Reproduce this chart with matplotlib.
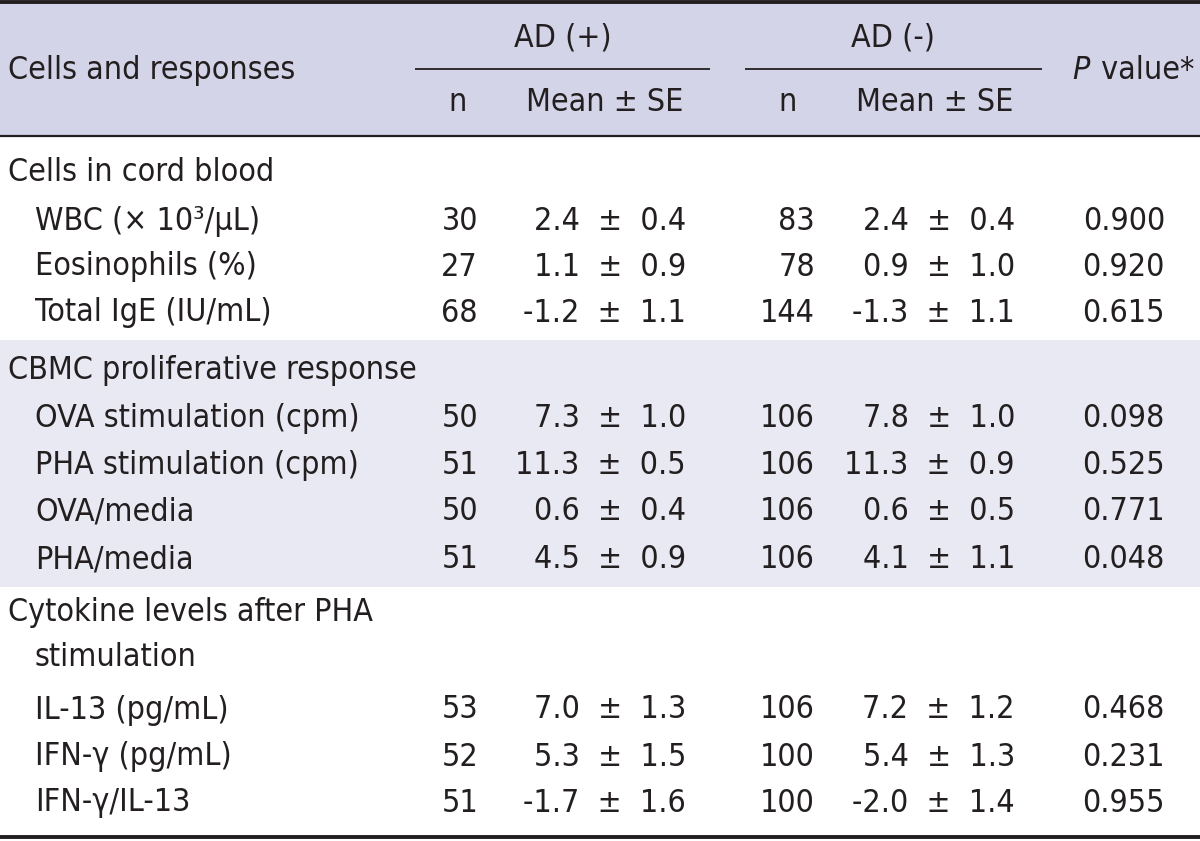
import matplotlib
matplotlib.use("Agg")
import matplotlib.pyplot as plt
from matplotlib import font_manager

# pick a narrow sans font if one is installed
names = {f.name for f in font_manager.fontManager.ttflist}
if "Liberation Sans Narrow" in names:
    FONT = dict(family="Liberation Sans Narrow")
else:
    FONT = dict(family="DejaVu Sans", stretch="condensed")

# table content
row_labels = [
    "Cells in cord blood", "WBC (× 10³/μL)", "Eosinophils (%)", "Total IgE (IU/mL)",
    "CBMC proliferative response", "OVA stimulation (cpm)", "PHA stimulation (cpm)",
    "OVA/media", "PHA/media",
    "Cytokine levels after PHA", "stimulation", "IL-13 (pg/mL)", "IFN-γ (pg/mL)", "IFN-γ/IL-13",
]
is_heading = [True, False, False, False, True, False, False, False, False,
              True, False, False, False, False]
n_pos = [None, 30, 27, 68, None, 50, 51, 50, 51, None, None, 53, 52, 51]
mean_pos = [None, 2.4, 1.1, -1.2, None, 7.3, 11.3, 0.6, 4.5, None, None, 7.0, 5.3, -1.7]
se_pos = [None, 0.4, 0.9, 1.1, None, 1.0, 0.5, 0.4, 0.9, None, None, 1.3, 1.5, 1.6]
n_neg = [None, 83, 78, 144, None, 106, 106, 106, 106, None, None, 106, 100, 100]
mean_neg = [None, 2.4, 0.9, -1.3, None, 7.8, 11.3, 0.6, 4.1, None, None, 7.2, 5.4, -2.0]
se_neg = [None, 0.4, 1.0, 1.1, None, 1.0, 0.9, 0.5, 1.1, None, None, 1.2, 1.3, 1.4]
p_values = [None, "0.900", "0.920", "0.615", None, "0.098", "0.525", "0.771", "0.048",
            None, None, "0.468", "0.231", "0.955"]

row_y = [172, 221, 267, 313, 370, 418, 465, 512, 560, 613, 658, 710, 757, 803]

HEADER_BG = "#D4D4E8"
SHADE_BG = "#E9E9F3"
INK = "#231F20"
FS = 23

fig = plt.figure(figsize=(12, 8.41), dpi=100)
ax = fig.add_axes([0, 0, 1, 1])
ax.set_xlim(0, 1200)
ax.set_ylim(841, 0)
ax.axis("off")

# backgrounds
ax.axhspan(2, 136, color=HEADER_BG, lw=0, zorder=0)
ax.axhspan(340, 587, color=SHADE_BG, lw=0, zorder=0)

# rules
ax.hlines(2, 0, 1200, color=INK, lw=2.8)
ax.hlines(136, 0, 1200, color=INK, lw=1.6)
ax.hlines(837, 0, 1200, color=INK, lw=2.8)
ax.hlines(69, 415, 710, color=INK, lw=1.3)
ax.hlines(69, 745, 1042, color=INK, lw=1.3)

def txt(x, y, s, ha="left", **kw):
    ax.text(x, y, s, ha=ha, va="center", fontsize=FS, color=INK, **FONT, **kw)

# header
txt(8, 70, "Cells and responses")
txt(563, 38, "AD (+)", ha="center")
txt(893, 38, "AD (-)", ha="center")
txt(458, 102, "n", ha="center")
txt(605, 102, "Mean ± SE", ha="center")
txt(788, 102, "n", ha="center")
txt(935, 102, "Mean ± SE", ha="center")
txt(1090, 70, "P", ha="right", style="italic")
txt(1092, 70, " value*")

# body
for i, label in enumerate(row_labels):
    y = row_y[i]
    txt(8 if is_heading[i] else 35, y, label)
    if n_pos[i] is None:
        continue
    txt(478, y, str(n_pos[i]), ha="right")
    txt(686, y, f"{mean_pos[i]:.1f}  ±  {se_pos[i]:.1f}", ha="right")
    txt(815, y, str(n_neg[i]), ha="right")
    txt(1015, y, f"{mean_neg[i]:.1f}  ±  {se_neg[i]:.1f}", ha="right")
    txt(1165, y, p_values[i], ha="right")

fig.savefig("out.png", dpi=100)
